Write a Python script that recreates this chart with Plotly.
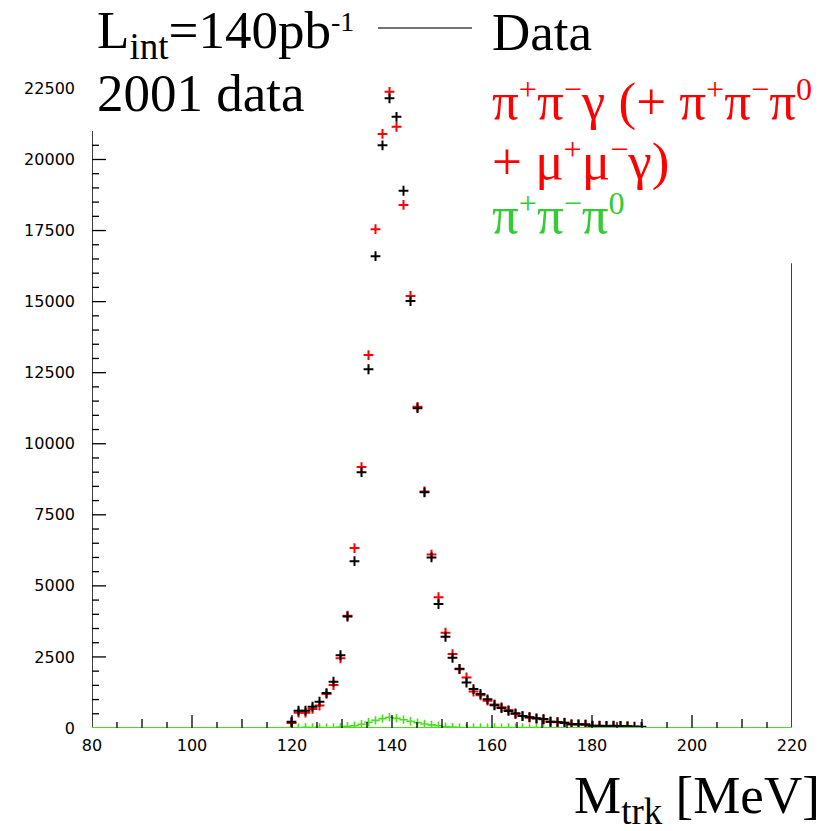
import numpy as np
import plotly.graph_objects as go

# Histogram binning: 100 bins of 1.4 MeV between 80 and 220 MeV
X_MIN, X_MAX = 80.0, 220.0
Y_MAX = 23500.0

# Data (black): bin centres [MeV] and entries
mass_data = [119.9, 121.3, 122.7, 124.1, 125.5, 126.9, 128.3, 129.7, 131.1, 132.5,
             133.9, 135.3, 136.7, 138.1, 139.5, 140.9, 142.3, 143.7, 145.1, 146.5,
             147.9, 149.3, 150.7, 152.1, 153.5, 154.9, 156.3, 157.7, 159.1, 160.5,
             161.9, 163.3, 164.7, 166.1, 167.5, 168.9, 170.3, 171.7, 173.1, 174.5,
             175.9, 177.3, 178.7, 180.1, 181.5, 182.9, 184.3, 185.7, 187.1, 188.5,
             189.9]
counts_data = [220, 610, 610, 750, 925, 1230, 1630, 2560, 3920, 5870,
               9000, 12620, 16600, 20500, 22150, 21500, 18900, 15020, 11250, 8290,
               6000, 4360, 3210, 2470, 2080, 1600, 1370, 1200, 1010, 800,
               700, 600, 515, 420, 380, 340, 315, 220, 210, 180,
               130, 130, 120, 80, 80, 70, 80, 70, 60, 50,
               40]

# pi+pi-gamma (+ pi+pi-pi0 + mu+mu-gamma) simulation (red)
mass_mc = [119.9, 121.3, 122.7, 124.1, 125.5, 126.9, 128.3, 129.7, 131.1, 132.5,
           133.9, 135.3, 136.7, 138.1, 139.5, 140.9, 142.3, 143.7, 145.1, 146.5,
           147.9, 149.3, 150.7, 152.1, 153.5, 154.9, 156.3, 157.7, 159.1, 160.5,
           161.9, 163.3, 164.7, 166.1, 167.5, 168.9, 170.3, 171.7, 173.1, 174.5,
           175.9, 177.3, 178.7, 180.1, 181.5, 182.9, 184.3, 185.7, 187.1]
counts_mc = [180, 540, 540, 670, 790, 1200, 1510, 2450, 3950, 6330,
             9180, 13120, 17550, 20900, 22380, 21150, 18400, 15200, 11300, 8320,
             6100, 4600, 3350, 2600, 2070, 1780, 1280, 1150, 960, 830,
             730, 630, 490, 420, 370, 330, 305, 220, 200, 190,
             130, 130, 120, 70, 70, 70, 70, 70, 60]

# pi+pi-pi0 simulation (green)
mass_3pi = [119.9, 121.3, 122.7, 124.1, 125.5, 126.9, 128.3, 129.7, 131.1, 132.5,
            133.9, 135.3, 136.7, 138.1, 139.5, 140.9, 142.3, 143.7, 145.1, 146.5,
            147.9, 149.3, 150.7, 152.1, 153.5, 154.9, 156.3, 157.7, 159.1, 160.5,
            161.9, 163.3, 164.7, 166.1, 167.5, 168.9, 170.3]
counts_3pi = [20, 10, 25, 15, 20, 10, 20, 30, 60, 80,
              130, 200, 270, 330, 380, 340, 290, 240, 190, 140,
              110, 80, 50, 30, 20, 10, 20, 15, 10, 20,
              10, 15, 10, 20, 10, 15, 10]

x_tick_labels = [80, 100, 120, 140, 160, 180, 200, 220]
y_tick_labels = [0, 2500, 5000, 7500, 10000, 12500, 15000, 17500, 20000, 22500]

RED = "#ff0000"
GREEN_LINE = "#44e11a"
GREEN_TEXT = "#33cc33"

# plot area in pixels
L, R, T, B = 92, 792, 60, 728
W, H = 837, 831


def px(xp):
    return (xp - L) / (R - L)


def py(yp):
    return (B - yp) / (B - T)


fig = go.Figure()


def crosses(x, y, color, size=7, width=2.0):
    return go.Scatter(
        x=x, y=y, mode="markers", showlegend=False, hoverinfo="skip",
        marker=dict(symbol="cross-thin", size=size, color=color,
                    line=dict(color=color, width=width)),
    )


fig.add_trace(crosses(mass_3pi, counts_3pi, GREEN_LINE, size=6, width=1.6))
fig.add_trace(crosses(mass_mc, counts_mc, RED))
fig.add_trace(crosses(mass_data, counts_data, "black"))

shapes = []
# frame: left and right axis lines, bottom line (zero level in green)
shapes.append(dict(type="line", xref="x", yref="y", x0=X_MIN, x1=X_MIN, y0=0, y1=21000,
                   line=dict(color="black", width=1.5)))
shapes.append(dict(type="line", xref="x", yref="y", x0=X_MAX, x1=X_MAX, y0=0, y1=16350,
                   line=dict(color="black", width=1.5)))
shapes.append(dict(type="line", xref="x", yref="y", x0=X_MIN, x1=X_MAX, y0=0, y1=0,
                   line=dict(color=GREEN_LINE, width=2.2)))

# x ticks every 5 MeV, long at 20, medium at 10
for v in range(85, 220, 5):
    ln = 13 if v % 20 == 0 else (9 if v % 10 == 0 else 6)
    shapes.append(dict(type="line", xref="x", yref="y", x0=v, x1=v,
                       ysizemode="pixel", yanchor=0, y0=0, y1=ln,
                       line=dict(color="black", width=1.3)))
# y ticks every 500, long at 2500
for v in range(500, 21000, 500):
    ln = 14 if v % 2500 == 0 else 7
    shapes.append(dict(type="line", xref="x", yref="y", y0=v, y1=v,
                       xsizemode="pixel", xanchor=X_MIN, x0=0, x1=ln,
                       line=dict(color="black", width=1.3)))

# legend line for Data
shapes.append(dict(type="line", xref="paper", yref="paper",
                   x0=px(378), x1=px(472), y0=py(28), y1=py(28),
                   line=dict(color="#444444", width=1.5)))

SERIF = "Liberation Serif, Times New Roman, serif"
FS = 53


def sup(s, base=46):
    # superscript: a little smaller and closer to the baseline than the default
    return f'<span style="font-size:{base}px"><sup>{s}</sup></span>'


def label(text, xp, yp, color="black", xanchor="left"):
    return dict(text=text, x=px(xp), y=py(yp), xref="paper", yref="paper",
                xanchor=xanchor, yanchor="middle", showarrow=False,
                font=dict(family=SERIF, size=FS, color=color))


P, M = sup("+"), sup("−")
annotations = [
    label("L<sub>int</sub>=140pb" + sup("-1", 40), 95, 34),
    label("2001 data", 95, 93),
    label("Data", 490, 32),
    label(f"π{P}π{M}γ (+ π{P}π{M}π{sup('0')}", 490, 101, RED),
    label(f"+ μ{P}μ{M}γ)", 490, 161, RED),
    label(f"π{P}π{M}π{sup('0')}", 490, 214, GREEN_TEXT),
    label("M<sub>trk</sub> [MeV]", 822, 799, xanchor="right"),
]

TICKFONT = dict(family="DejaVu Sans", size=16, color="black")

fig.update_layout(
    width=W, height=H,
    margin=dict(l=L, r=W - R, t=T, b=H - B, pad=0),
    paper_bgcolor="white", plot_bgcolor="white",
    showlegend=False,
    shapes=shapes,
    annotations=annotations,
    xaxis=dict(range=[X_MIN, X_MAX], showgrid=False, zeroline=False, showline=False,
               ticks="", tickmode="array", tickvals=x_tick_labels,
               ticktext=[str(v) for v in x_tick_labels],
               tickfont=TICKFONT, ticklabelstandoff=6),
    yaxis=dict(range=[0, Y_MAX], showgrid=False, zeroline=False, showline=False,
               ticks="", tickmode="array", tickvals=y_tick_labels,
               ticktext=[str(v) for v in y_tick_labels],
               tickfont=TICKFONT, ticklabelstandoff=16),
)

fig.write_html("out.html")
